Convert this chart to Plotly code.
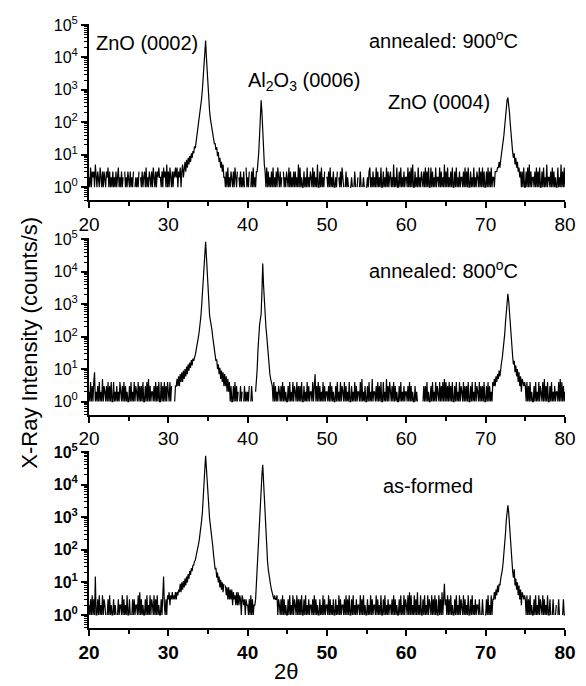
import numpy as np
import plotly.graph_objects as go

# ---------------- data (counts/s) ----------------
# scan grid: 20.0 .. 80.0 deg, 0.1 deg step
two_theta = np.round(20 + 0.1 * np.arange(601), 1)

# baseline noise, one string per degree (10 readings each), 0 = no counts
noise_900 = [
    "2141323152", "1321421313", "2132413121", "3121312412", "1312031213",  # 20-24
    "2131213012", "1213021312", "3141213213", "1421313242", "2131423151",  # 25-29
    "3142131324", "2413241352", "3333333333", "3333333333", "3333333333",  # 30-34
    "3333333333", "3333333333", "3213141213", "2131421302", "1312131041",  # 35-39
    "2130131412", "1313141210", "2131413121", "3141213142", "1312031213",  # 40-44
    "2141312131", "3121514121", "1312141213", "2141312151", "1314121302",  # 45-49
    "2131412131", "1213021314", "2101312101", "1210131012", "0131012101",  # 50-54
    "1213412131", "2141312141", "1312141312", "3121512141", "1314121312",  # 55-59
    "2141314151", "1312141213", "2131413141", "1413121412", "2141312151",  # 60-64
    "3141213141", "1314121312", "2131413141", "1312141213", "2141314131",  # 65-69
    "1314131412", "2133343434", "3333333333", "3333333333", "3432313141",  # 70-74
    "1314151312", "2131413141", "1314121512", "2131413121", "1412151314",  # 75-79
    "1",
]
noise_800 = [
    "2141314812", "1314121513", "2131413141", "1412131214", "2131413121",  # 20-24
    "1314121413", "2141313141", "1314151312", "2131413141", "1413141314",  # 25-29
    "2141301013", "3333333333", "3333333333", "3333333333", "3333333333",  # 30-34
    "3333333333", "3333333333", "3333333333", "3131413120", "1312013121",  # 35-39
    "2130131010", "3333333333", "3333333333", "3214131213", "2131413121",  # 40-44
    "1314121413", "2141313141", "1312141312", "2141371314", "1312141312",  # 45-49
    "2131413121", "1314121413", "2141312141", "1312141312", "2141512131",  # 50-54
    "1314121512", "2131413141", "1412151314", "2131413121", "1314121312",  # 55-59
    "2131413121", "1312101000", "0131314121", "1314121413", "2141314151",  # 60-64
    "4131413141", "1314121413", "2141313141", "1314121413", "2141313141",  # 65-69
    "1314131214", "3333333333", "3333333333", "3333333333", "3333333434",  # 70-74
    "3141314121", "1314121413", "2141513141", "1314121312", "2141514131",  # 75-79
    "2",
]
noise_asformed = [
    "2131413101", "1314121413", "2101314121", "1312101312", "2141312141",  # 20-24
    "1310131312", "2141513121", "1314121413", "2141314121", "1314121314",  # 25-29
    "3524353435", "3546333333", "3333333333", "3333333333", "3333333333",  # 30-34
    "3333333333", "3333333333", "3333333333", "3333333333", "3333333333",  # 35-39
    "2131413120", "3333333333", "3333333333", "3333333413", "2131413121",  # 40-44
    "1314121413", "2141313141", "1314121312", "2131413121", "1312141312",  # 45-49
    "2141312131", "1312141312", "2131413141", "1314121312", "2141314121",  # 50-54
    "1312141312", "2141312141", "1314121312", "2131413121", "1314121413",  # 55-59
    "2141514121", "4131512141", "1314121413", "2141314131", "1413151492",  # 60-64
    "3141314121", "1314121413", "2141312141", "1314121312", "2131013101",  # 65-69
    "1314121413", "3333333333", "3333333333", "3333333333", "3333333434",  # 70-74
    "3141314121", "1314121413", "2141312141", "1310131012", "0131010131",  # 75-79
    "1",
]

# peak regions: (start angle, readings every 0.1 deg)
peaks_900 = [
    (32.0, [3, 6, 3, 7, 4, 8, 5, 9, 6, 11,
            8, 13, 11, 18, 16, 25, 30, 45, 70, 110,
            180, 280, 550, 1100, 2800, 8000, 20000, 33000, 10000, 3000,
            1000, 400, 220, 130, 85, 60, 40, 34, 22, 22,
            14, 17, 9, 12, 6, 8, 4, 6, 3, 5, 2]),
    (41.2, [3, 5, 12, 40, 180, 480, 200, 45, 12, 5, 3]),
    (71.6, [4, 6, 4, 7, 10, 14, 22, 40, 75, 150, 300, 480, 580, 400,
            200, 90, 40, 20, 12, 8, 11, 5, 8, 4, 6, 3, 4]),
]
peaks_800 = [
    (31.0, [3, 5, 3, 6, 3, 7, 4, 8, 4, 9,
            5, 10, 6, 12, 7, 14, 9, 16, 11, 19,
            13, 21, 18, 26, 28, 38, 50, 70, 100, 150,
            230, 420, 900, 2000, 5000, 13000, 40000, 85000, 30000, 9000,
            2500, 900, 450, 320, 250, 160, 95, 60, 36, 30,
            18, 20, 10, 14, 7, 11, 5, 9, 4, 8,
            3, 7, 3, 6, 2, 5, 2, 4, 1, 3, 1]),
    (41.0, [2, 4, 10, 40, 120, 230, 350, 500, 2500, 18000, 4000,
            1000, 400, 200, 110, 50, 25, 12, 7, 5, 4, 3]),
    (71.0, [3, 5, 3, 6, 4, 7, 5, 9, 6, 12,
            16, 23, 35, 60, 120, 280, 700, 1500, 2100, 1300,
            500, 200, 90, 45, 25, 14, 18, 8, 13, 6,
            10, 4, 8, 3, 6, 2, 5]),
]
peaks_asformed = [
    (20.8, [15]),
    (29.4, [15]),
    (31.4, [5, 9, 5, 10, 6, 11, 7, 13, 8, 15,
            10, 18, 13, 22, 17, 27, 22, 33, 34, 44,
            48, 64, 80, 105, 145, 200, 300, 480, 800, 1500,
            3200, 9000, 30000, 76000, 28000, 9000, 3500, 1600, 900, 560,
            380, 230, 130, 70, 40, 25, 28, 14, 20, 10,
            15, 7, 12, 6, 10, 5, 9, 0, 8, 4,
            7, 3, 7, 3, 6, 3, 6, 2, 5, 3,
            4, 2, 5, 2, 5, 2, 4, 3, 1, 4,
            3, 2, 3, 1, 3, 2]),
    (40.9, [2, 3, 10, 35, 90, 250, 800, 2800, 8000, 20000, 40000, 12000,
            2500, 600, 200, 90, 45, 25, 15, 10, 8, 6, 5, 4, 3, 4, 3]),
    (71.0, [3, 5, 3, 6, 4, 8, 5, 9, 8, 13,
            16, 24, 40, 70, 140, 320, 800, 1700, 2300, 1400,
            550, 220, 100, 45, 22, 14, 25, 8, 13, 6,
            10, 4, 8, 3, 6, 2, 5]),
]

x_ticks = [20, 30, 40, 50, 60, 70, 80]
y_ticks = [1, 10, 100, 1000, 10000, 100000]
y_tick_labels = ["10<sup>0</sup>", "10<sup>1</sup>", "10<sup>2</sup>",
                 "10<sup>3</sup>", "10<sup>4</sup>", "10<sup>5</sup>"]
panel_labels = ["annealed: 900<sup>o</sup>C", "annealed: 800<sup>o</sup>C", "as-formed"]


def build(noise, peaks):
    vals = [float(c) for c in "".join(noise)]
    for start, seg in peaks:
        i0 = int(round((start - 20) * 10))
        for k, v in enumerate(seg):
            vals[i0 + k] = float(v)
    return [v if v > 0 else None for v in vals]


series = [build(noise_900, peaks_900),
          build(noise_800, peaks_800),
          build(noise_asformed, peaks_asformed)]

# ---------------- figure ----------------
# the page body adds an 8px offset, so the figure is 8px smaller than the window
OFF = 8
W, H = 586 - OFF, 686 - OFF
ML, MR, MT, MB = 89 - OFF, 21, 14 - OFF, 58
ph = H - MT - MB
pw = W - ML - MR


def py(p):  # reference pixel row -> paper y
    return (686 - MB - p) / ph


def px(p):  # reference pixel column -> paper x
    return (p - 89) / pw


domains = [[py(193), 1.0], [py(411), py(232)], [0.0, py(448)]]
FONT = "Liberation Sans, Arial, sans-serif"

fig = go.Figure()
for i, yv in enumerate(series):
    fig.add_trace(go.Scatter(x=two_theta, y=yv, mode="lines",
                             line=dict(color="black", width=1.2),
                             xaxis=f"x{i+1}" if i else "x",
                             yaxis=f"y{i+1}" if i else "y",
                             showlegend=False, hoverinfo="skip"))

layout = dict(width=W, height=H, margin=dict(l=ML, r=MR, t=MT, b=MB),
              paper_bgcolor="white", plot_bgcolor="white", showlegend=False)
for i in range(3):
    bold = "bold" if i == 2 else "normal"
    xs = "" if i == 0 else str(i + 1)
    layout["xaxis" + xs] = dict(
        domain=[0, 1], anchor="y" + xs, range=[20, 80],
        showline=True, linecolor="black", linewidth=2, mirror=False,
        ticks="outside", ticklen=6, tickwidth=1.5, tickcolor="black",
        tickvals=x_ticks, showgrid=False, zeroline=False,
        tickfont=dict(family=FONT, size=19, color="black", weight=bold),
        minor=dict(ticks="outside", ticklen=4, tickwidth=1.5, tickcolor="black",
                   dtick=5, tick0=20, showgrid=False),
    )
    layout["yaxis" + xs] = dict(
        domain=domains[i], anchor="x" + xs, type="log", range=[-0.4, 5.03],
        showline=True, linecolor="black", linewidth=2,
        ticks="outside", ticklen=6, tickwidth=1.5, tickcolor="black",
        tickvals=y_ticks, ticktext=y_tick_labels, showgrid=False, zeroline=False,
        tickfont=dict(family=FONT, size=16, color="black", weight=bold),
        minor=dict(ticks="outside", ticklen=3, tickwidth=1, tickcolor="black",
                   dtick="D1", showgrid=False),
    )
fig.update_layout(**layout)

ann = []


def txt(text, x, y, size=20, **kw):
    ann.append(dict(text=text, x=px(x), y=py(y), xref="paper", yref="paper",
                    showarrow=False, xanchor="center", yanchor="middle",
                    font=dict(family=FONT, size=size, color="black"), **kw))


txt("ZnO (0002)", 147, 33)
txt("Al<sub>2</sub>O<sub>3</sub> (0006)", 304, 72)
txt("ZnO (0004)", 439, 93)
txt(panel_labels[0], 443, 30)
txt(panel_labels[1], 443, 264)
txt(panel_labels[2], 428, 484)
txt("2θ", 286, 672, size=22)
txt("X-Ray Intensity (counts/s)", 30, 338, size=22, textangle=-90)
fig.update_layout(annotations=ann)

fig.write_html("out.html")
